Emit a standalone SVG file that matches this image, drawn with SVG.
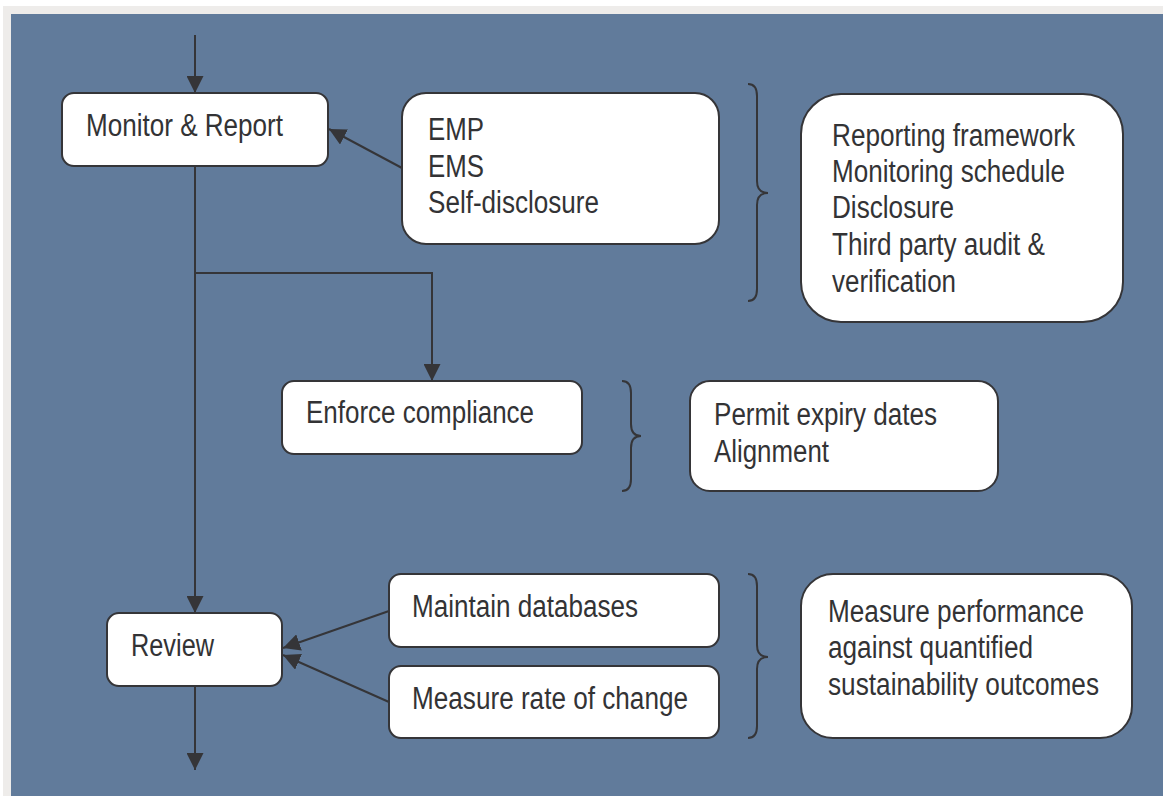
<svg xmlns="http://www.w3.org/2000/svg" width="1163" height="796" viewBox="0 0 1163 796">
<defs>
<style>
.box{fill:#ffffff;stroke:#353538;stroke-width:2}
.t{font-family:"Liberation Sans Narrow","Liberation Sans",Arial,sans-serif;font-size:31px;fill:#333335}
.ln{fill:none;stroke:#353538;stroke-width:2}
</style>
<marker id="ah" viewBox="0 0 16 16" refX="16" refY="8" markerWidth="17" markerHeight="17" markerUnits="userSpaceOnUse" orient="auto">
<path d="M0,0 L16,8 L0,16 z" fill="#353538"/>
</marker>
</defs>
<rect x="0" y="0" width="1163" height="796" fill="#ffffff"/>
<rect x="3" y="6" width="1160" height="790" fill="#eeecea"/>
<rect x="11" y="14" width="1152" height="782" fill="#617b9b"/>

<g id="connectors">
<line class="ln" x1="195" y1="35" x2="195" y2="93" marker-end="url(#ah)"/>
<line class="ln" x1="195" y1="166" x2="195" y2="613" marker-end="url(#ah)"/>
<polyline class="ln" points="195,273 432,273 432,381" marker-end="url(#ah)"/>
<line class="ln" x1="195" y1="686" x2="195" y2="770" marker-end="url(#ah)"/>
<line class="ln" x1="402" y1="168" x2="329" y2="129" marker-end="url(#ah)"/>
<line class="ln" x1="389" y1="611" x2="283" y2="648" marker-end="url(#ah)"/>
<line class="ln" x1="389" y1="702" x2="283" y2="655" marker-end="url(#ah)"/>
<path class="ln" d="M748,84 Q757,84 757,96 L757,181 Q757,193 768,193 Q757,193 757,205 L757,289 Q757,301 748,301"/>
<path class="ln" d="M622,381 Q631,381 631,393 L631,424 Q631,436 641,436 Q631,436 631,448 L631,479 Q631,491 622,491"/>
<path class="ln" d="M748,574 Q757,574 757,586 L757,645 Q757,657 768,657 Q757,657 757,669 L757,726 Q757,738 748,738"/>
</g>

<g id="monitor">
<rect class="box" x="62" y="93" width="266" height="73" rx="12"/>
<text class="t" x="86" y="136" textLength="197" lengthAdjust="spacingAndGlyphs">Monitor &amp; Report</text>
</g>

<g id="emp">
<rect class="box" x="402" y="93" width="317" height="151" rx="24"/>
<text class="t" x="428" y="140" textLength="56" lengthAdjust="spacingAndGlyphs">EMP</text>
<text class="t" x="428" y="177" textLength="56" lengthAdjust="spacingAndGlyphs">EMS</text>
<text class="t" x="428" y="213" textLength="171" lengthAdjust="spacingAndGlyphs">Self-disclosure</text>
</g>

<g id="reporting">
<rect class="box" x="801" y="94" width="322" height="228" rx="40"/>
<text class="t" x="832" y="146" textLength="243" lengthAdjust="spacingAndGlyphs">Reporting framework</text>
<text class="t" x="832" y="182" textLength="233" lengthAdjust="spacingAndGlyphs">Monitoring schedule</text>
<text class="t" x="832" y="218" textLength="122" lengthAdjust="spacingAndGlyphs">Disclosure</text>
<text class="t" x="832" y="255" textLength="213" lengthAdjust="spacingAndGlyphs">Third party audit &amp;</text>
<text class="t" x="832" y="292" textLength="124" lengthAdjust="spacingAndGlyphs">verification</text>
</g>

<g id="enforce">
<rect class="box" x="282" y="381" width="300" height="73" rx="12"/>
<text class="t" x="306" y="423" textLength="228" lengthAdjust="spacingAndGlyphs">Enforce compliance</text>
</g>

<g id="permit">
<rect class="box" x="690" y="381" width="308" height="110" rx="20"/>
<text class="t" x="714" y="425" textLength="223" lengthAdjust="spacingAndGlyphs">Permit expiry dates</text>
<text class="t" x="714" y="462" textLength="115" lengthAdjust="spacingAndGlyphs">Alignment</text>
</g>

<g id="review">
<rect class="box" x="107" y="613" width="175" height="73" rx="12"/>
<text class="t" x="131" y="656" textLength="83" lengthAdjust="spacingAndGlyphs">Review</text>
</g>

<g id="maintain">
<rect class="box" x="389" y="574" width="330" height="73" rx="12"/>
<text class="t" x="412" y="617" textLength="226" lengthAdjust="spacingAndGlyphs">Maintain databases</text>
</g>

<g id="measure">
<rect class="box" x="389" y="666" width="330" height="72" rx="12"/>
<text class="t" x="412" y="709" textLength="276" lengthAdjust="spacingAndGlyphs">Measure rate of change</text>
</g>

<g id="performance">
<rect class="box" x="801" y="574" width="331" height="164" rx="32"/>
<text class="t" x="828" y="622" textLength="256" lengthAdjust="spacingAndGlyphs">Measure performance</text>
<text class="t" x="828" y="658" textLength="205" lengthAdjust="spacingAndGlyphs">against quantified</text>
<text class="t" x="828" y="695" textLength="271" lengthAdjust="spacingAndGlyphs">sustainability outcomes</text>
</g>
</svg>
